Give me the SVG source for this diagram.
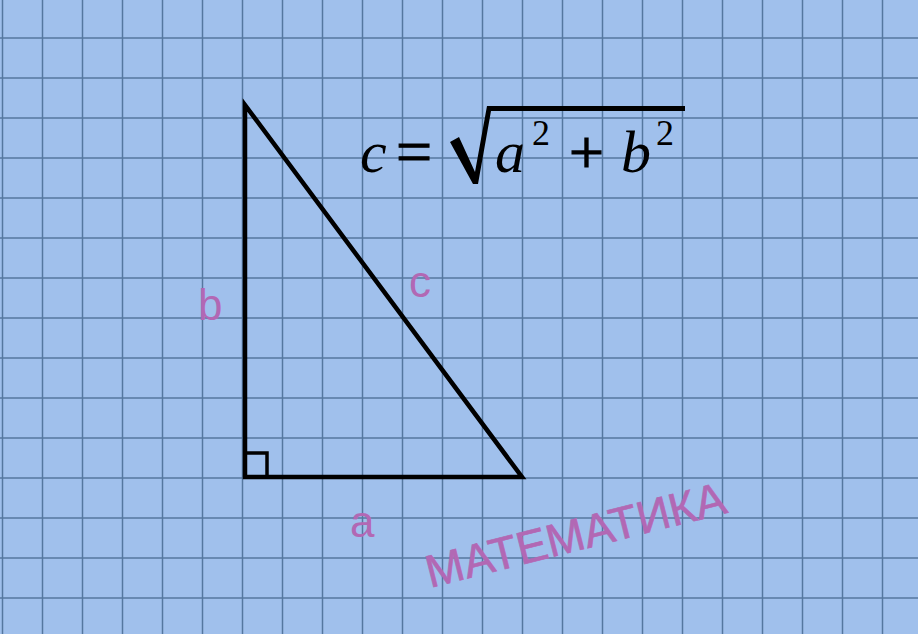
<svg xmlns="http://www.w3.org/2000/svg" width="918" height="634" viewBox="0 0 918 634">
<style>
.grid{fill:none;stroke:#55779f;stroke-width:1.5;}
.lbl{font-family:"Liberation Sans",Arial,sans-serif;fill:#b268b4;}
.math{font-family:"Liberation Serif","Times New Roman",serif;fill:#000;}
.it{font-style:italic;}
.op{stroke:#000;stroke-width:1.2;}
</style>
<rect width="918" height="634" fill="#a0c0ec"/>
<path class="grid" d="M2.5,0V634 M42.5,0V634 M82.5,0V634 M122.5,0V634 M162.5,0V634 M202.5,0V634 M242.5,0V634 M282.5,0V634 M322.5,0V634 M362.5,0V634 M402.5,0V634 M442.5,0V634 M482.5,0V634 M522.5,0V634 M562.5,0V634 M602.5,0V634 M642.5,0V634 M682.5,0V634 M722.5,0V634 M762.5,0V634 M802.5,0V634 M842.5,0V634 M882.5,0V634 M0,38H918 M0,78H918 M0,118H918 M0,158H918 M0,198H918 M0,238H918 M0,278H918 M0,318H918 M0,358H918 M0,398H918 M0,438H918 M0,478H918 M0,518H918 M0,558H918 M0,598H918"/>
<g id="triangle">
<path d="M245,105 L245,477 L522,477 Z" fill="none" stroke="#000" stroke-width="4.5" stroke-linejoin="miter"/>
<path d="M245,453 H267 V477" fill="none" stroke="#000" stroke-width="3.5"/>
</g>
<g id="labels">
<text class="lbl" x="198" y="320" font-size="44">b</text>
<text class="lbl" x="409" y="297" font-size="44">c</text>
<text class="lbl" x="350" y="537" font-size="44">a</text>
</g>
<g id="formula">
<text class="math it" x="360" y="172" font-size="60">c</text>
<text class="math op" x="396" y="173" font-size="64">=</text>
<path d="M450,142 L459,137 L475,172 L487,106 L685,106 L685,111 L491,111 L478,184 L473,184 Z" fill="#000"/>
<text class="math it" x="495" y="172" font-size="60">a</text>
<text class="math" x="532" y="145" font-size="36">2</text>
<text class="math op" x="569" y="173" font-size="62">+</text>
<text class="math it" x="621" y="172" font-size="60">b</text>
<text class="math" x="656" y="145" font-size="36">2</text>
</g>
<g id="watermark">
<text class="lbl" transform="translate(430,588) rotate(-14.2)" font-size="46" stroke="#b268b4" stroke-width="0.6">МАТЕМАТИКА</text>
</g>
</svg>
